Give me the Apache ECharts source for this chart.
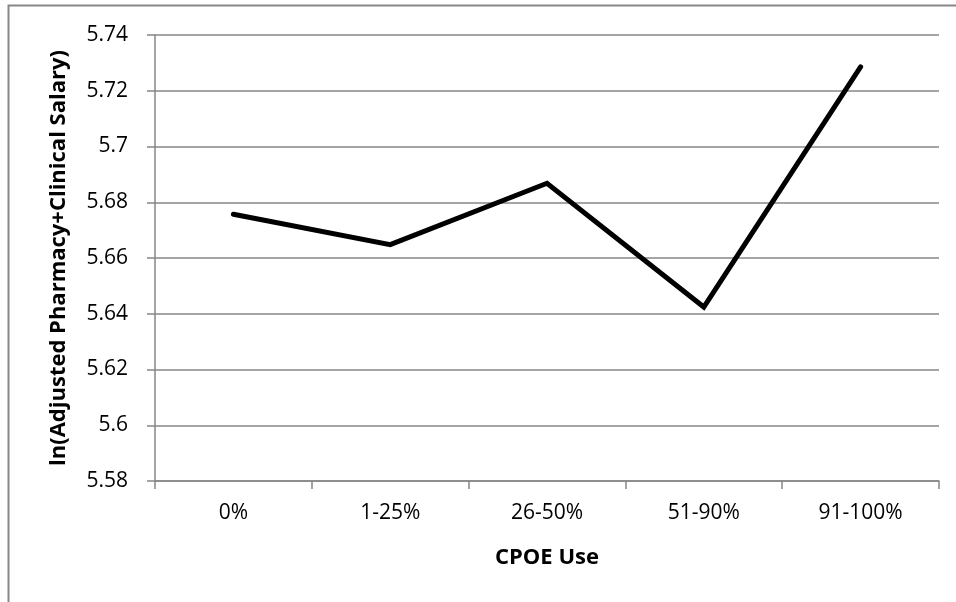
<!DOCTYPE html>
<html>
<head>
<meta charset="utf-8">
<script src="https://cdn.jsdelivr.net/npm/echarts@6/dist/echarts.min.js"></script>
<style>
html,body{margin:0;padding:0;background:#fff;}
#chart{width:956px;height:602px;}
</style>
</head>
<body>
<div id="chart"></div>
<script>
const categories = ['0%', '1-25%', '26-50%', '51-90%', '91-100%'];
const salaryValues = [5.6757, 5.6648, 5.6868, 5.6424, 5.7286];
const yMin = 5.58, yMax = 5.74, yStep = 0.02;
const xTitle = 'CPOE Use';
const yTitle = 'ln(Adjusted Pharmacy+Clinical Salary)';

const FONT = '"Open Sans", "Noto Sans", sans-serif';
const GRAY = '#878787';

const chart = echarts.init(document.getElementById('chart'), null, {renderer: 'canvas'});
chart.setOption({
  animation: false,
  backgroundColor: '#fff',
  graphic: [{
    type: 'rect',
    shape: {x: 8.5, y: 5.5, width: 1000, height: 1000},
    style: {fill: 'none', stroke: GRAY, lineWidth: 2},
    silent: true
  }],
  grid: {left: 155, right: 17, top: 35, bottom: 121, containLabel: false},
  xAxis: {
    type: 'category',
    data: categories,
    boundaryGap: true,
    axisLine: {show: true, lineStyle: {color: GRAY, width: 1.5}},
    axisTick: {show: true, length: 8, lineStyle: {color: GRAY, width: 1.5}},
    axisLabel: {color: '#000', fontFamily: FONT, fontSize: 21, margin: 22},
    splitLine: {show: false},
    name: xTitle,
    nameLocation: 'middle',
    nameGap: 66,
    nameTextStyle: {color: '#000', fontFamily: FONT, fontSize: 22, fontWeight: 'bold'}
  },
  yAxis: {
    type: 'value',
    min: yMin, max: yMax, interval: yStep,
    axisLine: {show: true, lineStyle: {color: GRAY, width: 1.5}},
    axisTick: {show: true, length: 8, lineStyle: {color: GRAY, width: 1.5}},
    axisLabel: {color: '#000', fontFamily: FONT, fontSize: 21, margin: 27,
      formatter: v => String(+v.toFixed(2))},
    splitLine: {show: true, lineStyle: {color: GRAY, width: 1.5}},
    name: yTitle,
    nameLocation: 'middle',
    nameGap: 85,
    nameTextStyle: {color: '#000', fontFamily: FONT, fontSize: 22, fontWeight: 'bold'}
  },
  series: [{
    type: 'line',
    data: salaryValues,
    symbol: 'none',
    lineStyle: {color: '#000', width: 5, cap: 'round', join: 'miter'},
    z: 5
  }]
});
</script>
</body>
</html>
